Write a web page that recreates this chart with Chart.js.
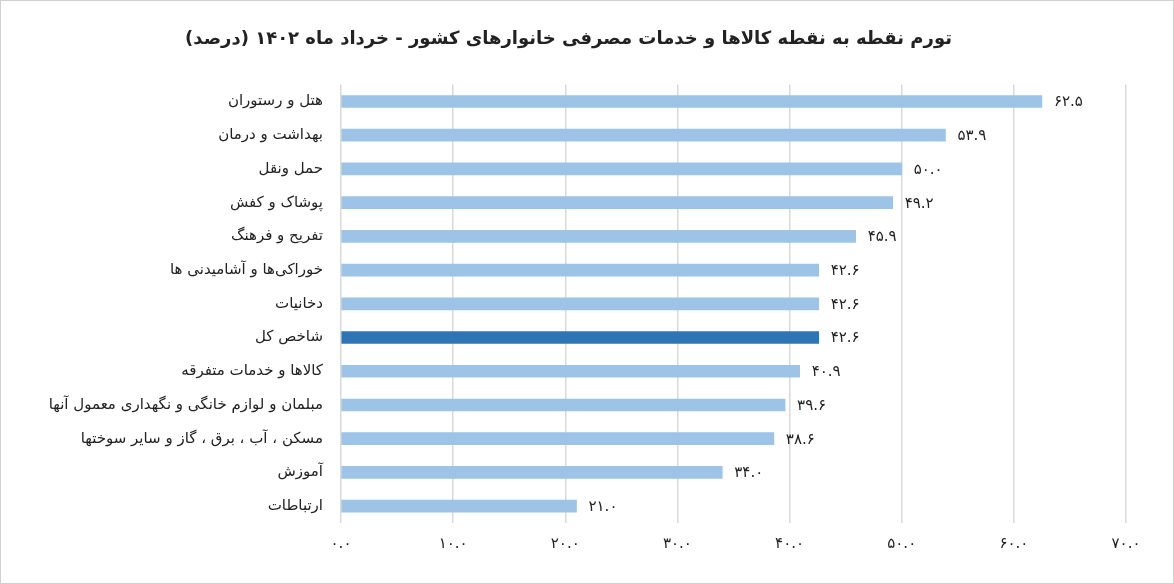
<!DOCTYPE html>
<html><head><meta charset="utf-8">
<script src="https://cdn.jsdelivr.net/npm/chart.js@4"></script>
<style>html,body{margin:0;padding:0;background:#fff}#w{width:1172px;height:582px;border:1px solid #d0d0d0;position:relative}</style>
</head><body><div id="w"><canvas id="c"></canvas></div>
<script>
const categories=["هتل و رستوران","بهداشت و درمان","حمل ونقل","پوشاک و کفش","تفریح و فرهنگ","خوراکی‌ها و آشامیدنی ها","دخانیات","شاخص کل","کالاها و خدمات متفرقه","مبلمان و لوازم خانگی و نگهداری معمول آنها","مسکن ، آب ، برق ، گاز و سایر سوختها","آموزش","ارتباطات"];
const values=[62.5,53.9,50.0,49.2,45.9,42.6,42.6,42.6,40.9,39.6,38.6,34.0,21.0];
const highlightIndex=7;
const xTicks=[0,10,20,30,40,50,60,70];
const fa=s=>String(s).replace(/\d/g,d=>"۰۱۲۳۴۵۶۷۸۹"[d]);
const fmt=v=>fa(v.toFixed(1));
const labelsPlugin={id:'lbl',afterDatasetsDraw(ch){const ctx=ch.ctx;const m=ch.getDatasetMeta(0);ctx.save();ctx.font='15px "DejaVu Sans"';ctx.fillStyle='#222';ctx.textBaseline='middle';ctx.textAlign='left';m.data.forEach((b,i)=>{ctx.fillText(fmt(values[i]),b.x+12,b.y+1);});ctx.restore();}};
new Chart(document.getElementById('c'),{type:'bar',
data:{labels:categories,datasets:[{data:values,backgroundColor:values.map((v,i)=>i===highlightIndex?'#2e75b6':'#9dc3e6'),barThickness:12,borderWidth:0}]},
options:{indexAxis:'y',responsive:true,maintainAspectRatio:false,animation:false,
layout:{padding:{left:10,right:47,top:8,bottom:18}},
plugins:{legend:{display:false},tooltip:{enabled:false},
title:{display:true,text:"تورم نقطه به نقطه کالاها و خدمات مصرفی خانوارهای کشور - خرداد ماه ۱۴۰۲ (درصد)",font:{family:'DejaVu Sans',size:18,weight:'bold'},color:'#222',padding:{top:20,bottom:34}}},
scales:{x:{min:0,max:70,afterBuildTicks(s){s.ticks=xTicks.map(v=>({value:v}));},ticks:{callback:v=>fmt(v),font:{family:'DejaVu Sans',size:15},color:'#222',padding:12},grid:{color:'#d9d9d9',lineWidth:1.5,drawTicks:false},border:{display:false}},
y:{afterFit(s){s.width=330;},ticks:{font:{family:'DejaVu Sans',size:15},color:'#222',padding:10},grid:{display:false},border:{display:false}}}},
plugins:[labelsPlugin]});
</script></body></html>
